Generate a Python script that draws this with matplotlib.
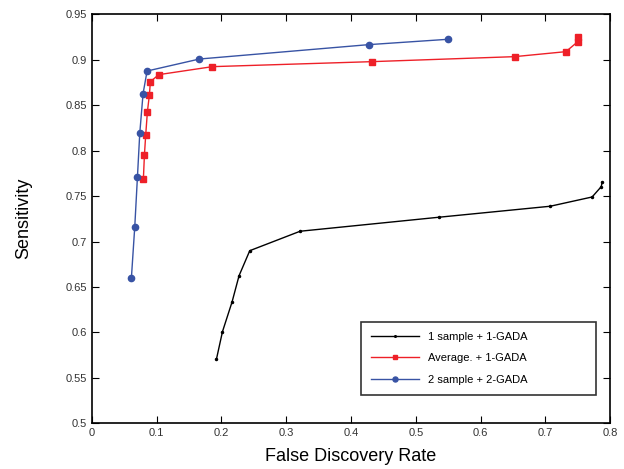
import matplotlib
matplotlib.use("Agg")
import matplotlib.pyplot as plt

plt.rcParams['font.family'] = ['Liberation Sans', 'DejaVu Sans']

fdr_one = [0.1924, 0.2017, 0.2165, 0.2273, 0.2438, 0.3215, 0.5355, 0.7073, 0.772, 0.786, 0.7875]
sens_one = [0.5705, 0.6008, 0.6335, 0.6624, 0.6899, 0.7113, 0.7267, 0.7388, 0.749, 0.7603, 0.7652]

fdr_avg = [0.0797, 0.0813, 0.0833, 0.0859, 0.089, 0.0905, 0.1034, 0.1862, 0.4321, 0.6523, 0.7315, 0.75, 0.75]
sens_avg = [0.769, 0.7952, 0.8175, 0.8429, 0.8616, 0.8759, 0.8836, 0.8924, 0.8979, 0.9034, 0.9089, 0.9199, 0.9254]

fdr_two = [0.0612, 0.0664, 0.0705, 0.0741, 0.0792, 0.0854, 0.1662, 0.427, 0.5494]
sens_two = [0.6599, 0.7163, 0.7707, 0.819, 0.8627, 0.8876, 0.9008, 0.9166, 0.9225]

labels = ['1 sample + 1-GADA', 'Average. + 1-GADA', '2 sample + 2-GADA']
xticks = [0, 0.1, 0.2, 0.3, 0.4, 0.5, 0.6, 0.7, 0.8]
xticklabels = ['0', '0.1', '0.2', '0.3', '0.4', '0.5', '0.6', '0.7', '0.8']
yticks = [0.5, 0.55, 0.6, 0.65, 0.7, 0.75, 0.8, 0.85, 0.9, 0.95]
yticklabels = ['0.5', '0.55', '0.6', '0.65', '0.7', '0.75', '0.8', '0.85', '0.9', '0.95']

fig = plt.figure(figsize=(6.24, 4.69), dpi=100)
ax = fig.add_axes([0.147, 0.0975, 0.831, 0.872])

ax.plot(fdr_one, sens_one, color='black', lw=1.0, marker='.', ms=3, label=labels[0])
ax.plot(fdr_avg, sens_avg, color='#ee2028', lw=1.0, marker='s', ms=4.3, label=labels[1])
ax.plot(fdr_two, sens_two, color='#3853a4', lw=1.0, marker='o', ms=4.5, label=labels[2])

ax.set_xlim(0, 0.8)
ax.set_ylim(0.5, 0.95)
ax.set_xticks(xticks)
ax.set_xticklabels(xticklabels)
ax.set_yticks(yticks)
ax.set_yticklabels(yticklabels)
ax.tick_params(direction='in', top=True, right=True, labelsize=8, length=5, width=0.8,
               labelcolor='#333333')
for s in ax.spines.values():
    s.set_linewidth(1.2)

ax.set_xlabel('False Discovery Rate', fontsize=13, labelpad=7)
ax.set_ylabel('Sensitivity', fontsize=13, labelpad=24)

leg = ax.legend(loc='lower left', bbox_to_anchor=(0.519, 0.069, 0.453, 0.177), mode='expand',
                fontsize=8, frameon=True, fancybox=False, edgecolor='black', handlelength=4.3,
                labelspacing=1.05, borderpad=0.9, borderaxespad=0, markerscale=0.8)
leg.get_frame().set_linewidth(1.2)

fig.savefig('out.png', dpi=100)
